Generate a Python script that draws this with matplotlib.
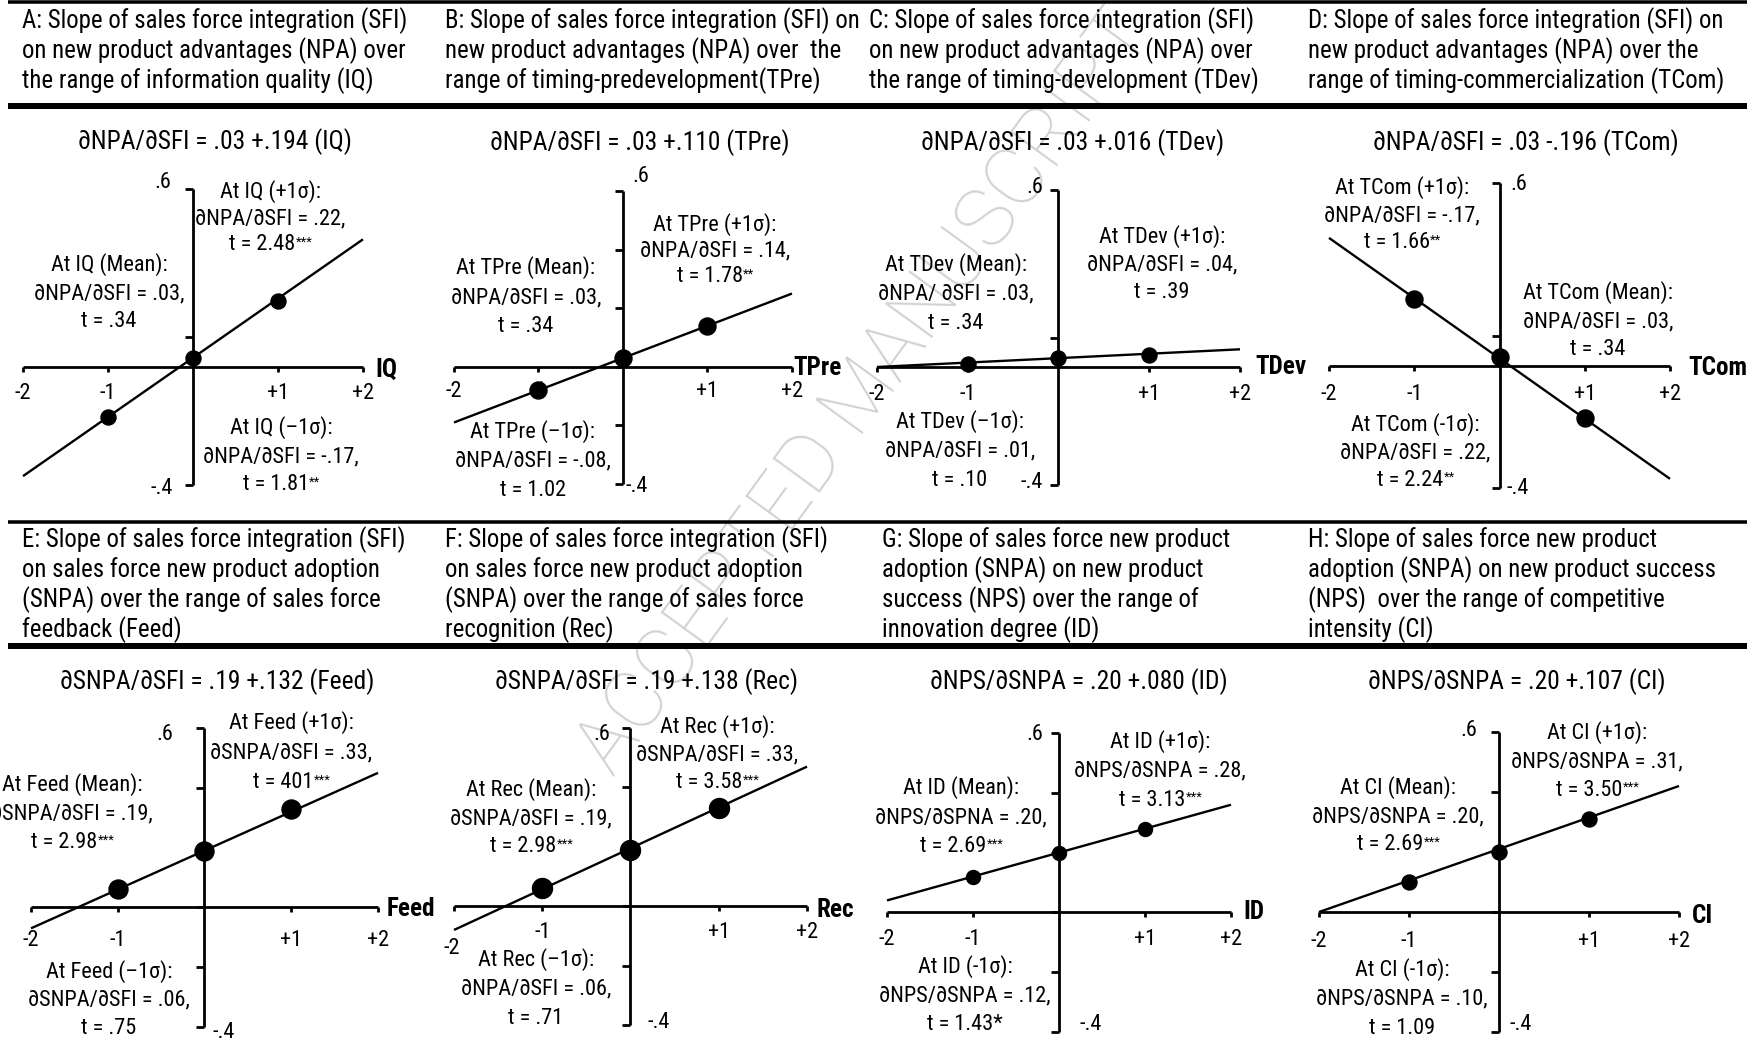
import matplotlib
matplotlib.use("Agg")
import matplotlib.pyplot as plt
from matplotlib import font_manager
from matplotlib.lines import Line2D
from matplotlib.text import Annotation
from matplotlib.transforms import ScaledTranslation

W, H, DPI = 1758, 1044, 100

# ---------------- data ----------------
panels = ["A", "B", "C", "D", "E", "F", "G", "H"]
moderators = ["IQ", "TPre", "TDev", "TCom", "Feed", "Rec", "ID", "CI"]
x_points = [-1, 0, 1]
x_line = [-2, 2]
x_ticks = [-2, -1, 1, 2]
x_tick_labels = ["-2", "-1", "+1", "+2"]
y_top_label = ".6"
y_bottom_label = "-.4"
yticks_sparse = [-0.4, 0.1, 0.6]
yticks_full = [-0.4, -0.2, 0.0, 0.2, 0.4, 0.6]

# conditional slope plotted at x = -1, 0, +1
value_at_x_minus1 = [-0.17, -0.08, 0.01, 0.22, 0.06, 0.06, 0.12, 0.10]
value_at_x_0 = [0.03, 0.03, 0.03, 0.03, 0.19, 0.19, 0.20, 0.20]
value_at_x_plus1 = [0.22, 0.14, 0.04, -0.17, 0.33, 0.33, 0.28, 0.31]
# regression line end values at x = -2 and x = +2
line_at_minus2 = [-0.37, -0.19, 0.00, 0.42, -0.07, -0.08, 0.04, 0.00]
line_at_plus2 = [0.43, 0.25, 0.06, -0.37, 0.45, 0.47, 0.36, 0.42]

titles = [
    ["A: Slope of sales force integration (SFI)", "on new product advantages (NPA) over",
     "the range of information quality (IQ)"],
    ["B: Slope of sales force integration (SFI) on", "new product advantages (NPA) over  the",
     "range of timing-predevelopment(TPre)"],
    ["C: Slope of sales force integration (SFI)", "on new product advantages (NPA) over",
     "the range of timing-development (TDev)"],
    ["D: Slope of sales force integration (SFI) on", "new product advantages (NPA) over the",
     "range of timing-commercialization (TCom)"],
    ["E: Slope of sales force integration (SFI)", "on sales force new product adoption",
     "(SNPA) over the range of sales force", "feedback (Feed)"],
    ["F: Slope of sales force integration (SFI)", "on sales force new product adoption",
     "(SNPA) over the range of sales force", "recognition (Rec)"],
    ["G: Slope of sales force new product", "adoption (SNPA) on new product",
     "success (NPS) over the range of", "innovation degree (ID)"],
    ["H: Slope of sales force new product", "adoption (SNPA) on new product success",
     "(NPS)  over the range of competitive", "intensity (CI)"],
]

equations = [
    "∂NPA/∂SFI = .03 +.194 (IQ)",
    "∂NPA/∂SFI = .03 +.110 (TPre)",
    "∂NPA/∂SFI = .03 +.016 (TDev)",
    "∂NPA/∂SFI = .03 -.196 (TCom)",
    "∂SNPA/∂SFI = .19 +.132 (Feed)",
    "∂SNPA/∂SFI = .19 +.138 (Rec)",
    "∂NPS/∂SNPA = .20 +.080 (ID)",
    "∂NPS/∂SNPA = .20 +.107 (CI)",
]

# annotation text: [line1, line2, line3, superscript stars]
notes_plus = [
    ["At IQ (+1σ):", "∂NPA/∂SFI = .22,", "t = 2.48", "***"],
    ["At TPre (+1σ):", "∂NPA/∂SFI = .14,", "t = 1.78", "**"],
    ["At TDev (+1σ):", "∂NPA/∂SFI = .04,", "t = .39", ""],
    ["At TCom (+1σ):", "∂NPA/∂SFI = -.17,", "t = 1.66", "**"],
    ["At Feed (+1σ):", "∂SNPA/∂SFI = .33,", "t = 401", "***"],
    ["At Rec (+1σ):", "∂SNPA/∂SFI = .33,", "t = 3.58", "***"],
    ["At ID (+1σ):", "∂NPS/∂SNPA = .28,", "t = 3.13", "***"],
    ["At CI (+1σ):", "∂NPS/∂SNPA = .31,", "t = 3.50", "***"],
]
notes_mean = [
    ["At IQ (Mean):", "∂NPA/∂SFI = .03,", "t = .34", ""],
    ["At TPre (Mean):", "∂NPA/∂SFI = .03,", "t = .34", ""],
    ["At TDev (Mean):", "∂NPA/ ∂SFI = .03,", "t = .34", ""],
    ["At TCom (Mean):", "∂NPA/∂SFI = .03,", "t = .34", ""],
    ["At Feed (Mean):", "∂SNPA/∂SFI = .19,", "t = 2.98", "***"],
    ["At Rec (Mean):", "∂SNPA/∂SFI = .19,", "t = 2.98", "***"],
    ["At ID (Mean):", "∂NPS/∂SPNA = .20,", "t = 2.69", "***"],
    ["At CI (Mean):", "∂NPS/∂SNPA = .20,", "t = 2.69", "***"],
]
notes_minus = [
    ["At IQ (–1σ):", "∂NPA/∂SFI = -.17,", "t = 1.81", "**"],
    ["At TPre (–1σ):", "∂NPA/∂SFI = -.08,", "t = 1.02", ""],
    ["At TDev (–1σ):", "∂NPA/∂SFI = .01,", "t = .10", ""],
    ["At TCom (-1σ):", "∂NPA/∂SFI = .22,", "t = 2.24", "**"],
    ["At Feed (–1σ):", "∂SNPA/∂SFI = .06,", "t = .75", ""],
    ["At Rec (–1σ):", "∂NPA/∂SFI = .06,", "t = .71", ""],
    ["At ID (-1σ):", "∂NPS/∂SNPA = .12,", "t = 1.43*", ""],
    ["At CI (-1σ):", "∂NPS/∂SNPA = .10,", "t = 1.09", ""],
]
watermark = "ACCEPTED MANUSCRIPT"

# ---------------- layout (pixels of the 1758x1044 canvas) ----------------
axes_px = [  # x(-2), x(+2), y(.6), y(-.4)
    (23, 363, 189, 485), (454, 792, 191, 484), (877, 1240, 190, 485), (1329, 1670, 183, 488),
    (31, 378, 728, 1027), (454, 807, 728, 1025), (887, 1231, 733, 1032), (1319, 1679, 732, 1032),
]
xtick_pad_pt = [8.3, 6.9, 8.3, 9.0, 12.6, 7.6, 8.3, 9.8]
dot_px = [15, 17, 15, 17, 19, 20, 14, 15]
sparse_ticks = [True, False, True, True, False, False, False, False]
top_lab_px = [(171, 183, "right"), (632, 177, "left"), (1043, 187, "right"), (1510, 185, "left"),
              (173, 735, "right"), (610, 735, "right"), (1043, 735, "right"), (1477, 730, "right")]
bot_lab_px = [(173, 488, "right"), (626, 487, "left"), (1043, 483, "right"), (1507, 488, "left"),
              (213, 1033, "left"), (648, 1022, "left"), (1080, 1025, "left"), (1510, 1025, "left")]
axname_px = [(375, 370), (793, 368), (1255, 367), (1688, 368),
             (387, 909), (817, 910), (1243, 912), (1692, 916)]
eq_px = [(215, 142), (640, 143), (1073, 143), (1526, 143),
         (217, 682), (647, 682), (1079, 682), (1517, 682)]
title_x = [22, 445, 869, 1308, 22, 445, 882, 1308]
title_base = [28, 28, 28, 28, 547, 547, 547, 547]
title_step = 30
plus_px = [(270, 192, 245), (715, 225, 277), (1162, 237, 293), (1402, 188, 243),
           (291, 723, 783), (717, 727, 783), (1160, 742, 800), (1597, 733, 790)]
mean_px = [(109, 265, 322), (526, 268, 327), (956, 265, 323), (1598, 293, 350),
           (72, 785, 843), (531, 790, 847), (961, 788, 847), (1398, 788, 845)]
minus_px = [(281, 428, 485), (533, 432, 490), (960, 422, 480), (1415, 425, 480),
            (109, 972, 1028), (536, 960, 1018), (965, 967, 1025), (1402, 970, 1028)]
rules = [(2, 3.5), (106, 6), (522, 3.5), (646, 6)]  # y, thickness px


def has_font(name):
    try:
        font_manager.findfont(font_manager.FontProperties(family=name), fallback_to_default=False)
        return True
    except Exception:
        return False


BASE = "Liberation Sans"
for cand in ["Liberation Sans Narrow", "Arial Narrow", "Roboto Condensed",
             "Noto Sans Condensed", "Open Sans Condensed"]:
    if has_font(cand):
        BASE = cand
        break
FAM = [BASE, "Liberation Sans", "DejaVu Sans"]
plt.rcParams["font.family"] = FAM

WM_FAM = [f for f in ["Roboto Light", "Lato Light", "Open Sans Light", "Roboto", "Liberation Sans"]
          if has_font(f)] + ["DejaVu Sans"]

PT = 72.0 / DPI
LW_AX = 2.0
LW_LINE = 1.7


def P(x, y):
    return x / W, 1 - y / H


fig = plt.figure(figsize=(W / DPI, H / DPI), dpi=DPI)
fig.patch.set_facecolor("white")
renderer = fig.canvas.get_renderer()


def text_width(s, size, **kw):
    t = fig.text(0, 0, s, fontsize=size, **kw)
    w = t.get_window_extent(renderer).width
    t.remove()
    return w


def fit_size(samples, **kw):
    ratios = [target / text_width(s, 20, **kw) for s, target in samples]
    return 20 * sum(ratios) / len(ratios)


FS_TITLE = fit_size([("A: Slope of sales force integration (SFI)", 390),
                     ("D: Slope of sales force integration (SFI) on", 412)])
FS_EQ = fit_size([("∂NPA/∂SFI = .03 +.194 (IQ)", 278), ("∂SNPA/∂SFI = .19 +.132 (Feed)", 311),
                  ("∂NPS/∂SNPA = .20 +.080 (ID)", 295)])
FS_NOTE = fit_size([("∂NPA/∂SFI = .22,", 147), ("∂NPS/∂SNPA = .28,", 178),
                    ("At TCom (Mean):", 150), ("At IQ (Mean):", 115)])
FS_AXNAME = fit_size([("TCom", 57), ("Feed", 48), ("TPre", 50)], fontweight="bold")
FS_WM = fit_size([(watermark, 920)], family=WM_FAM, fontweight="light")
FS_STAR = 13.0 * PT

# watermark
wx, wy = P(866, 392)
fig.text(wx, wy, watermark, rotation=54, fontsize=FS_WM, color="#d2d2d2", ha="center", va="center",
         rotation_mode="anchor", family=WM_FAM, fontweight="light", zorder=-10)

# horizontal rules
for y, th in rules:
    x0, yy = P(8, y)
    x1, _ = P(1747, y)
    fig.add_artist(Line2D([x0, x1], [yy, yy], color="black", lw=th * PT, solid_capstyle="butt"))


def block(lines, cx, y1, y3):
    step = (y3 - y1) / 2.0
    for k in range(2):
        fig.text(*P(cx, y1 + k * step), lines[k], fontsize=FS_NOTE, ha="center", va="center")
    stars = lines[3]
    shift = 2.6 * len(stars)
    t = fig.text(*P(cx - shift, y3), lines[2], fontsize=FS_NOTE, ha="center", va="center")
    if stars:
        ann = Annotation(stars, xy=(1, 1), xycoords=t, xytext=(0.3, -1.0), textcoords="offset points",
                         ha="left", va="top", fontsize=FS_STAR)
        fig.add_artist(ann)


for i, pid in enumerate(panels):
    xl, xr, yt, yb = axes_px[i]
    ax = fig.add_axes([xl / W, 1 - yb / H, (xr - xl) / W, (yb - yt) / H])
    ax.set_xlim(-2, 2)
    ax.set_ylim(-0.4, 0.6)
    ax.patch.set_visible(False)
    for s in ("top", "right"):
        ax.spines[s].set_visible(False)
    ax.spines["left"].set_position(("data", 0))
    ax.spines["bottom"].set_position(("data", 0))
    for s in ("left", "bottom"):
        ax.spines[s].set_linewidth(LW_AX)
        ax.spines[s].set_capstyle("butt")
    ax.set_yticks(yticks_sparse if sparse_ticks[i] else yticks_full)
    ax.set_yticklabels([])
    ax.tick_params(axis="y", direction="out", length=8 * PT, width=LW_AX)
    ax.set_xticks(x_ticks, x_tick_labels)
    ax.tick_params(axis="x", direction="out", length=5 * PT, width=LW_AX, pad=xtick_pad_pt[i],
                   labelsize=FS_NOTE)

    ax.plot(x_line, [line_at_minus2[i], line_at_plus2[i]], color="black", lw=LW_LINE,
            solid_capstyle="butt", clip_on=False, zorder=3)
    ax.plot(x_points, [value_at_x_minus1[i], value_at_x_0[i], value_at_x_plus1[i]], "o",
            color="black", ms=dot_px[i] * PT, clip_on=False, zorder=5)

    if pid == "F":
        lbl = ax.get_xticklabels()[0]
        lbl.set_transform(lbl.get_transform() + ScaledTranslation(-2 / DPI, -16 / DPI, fig.dpi_scale_trans))

    # y end labels
    x, y, ha = top_lab_px[i]
    fig.text(*P(x, y), y_top_label, fontsize=FS_NOTE, ha=ha, va="center")
    x, y, ha = bot_lab_px[i]
    fig.text(*P(x, y), y_bottom_label, fontsize=FS_NOTE, ha=ha, va="center")

    # moderator name
    x, y = axname_px[i]
    fig.text(*P(x, y), moderators[i], fontsize=FS_AXNAME, fontweight="bold", ha="left", va="center")

    # equation
    x, y = eq_px[i]
    fig.text(*P(x, y), equations[i], fontsize=FS_EQ, ha="center", va="center")

    # title
    for k, line in enumerate(titles[i]):
        fig.text(*P(title_x[i], title_base[i] + k * title_step), line, fontsize=FS_TITLE,
                 ha="left", va="baseline")

    block(notes_plus[i], *plus_px[i])
    block(notes_mean[i], *mean_px[i])
    block(notes_minus[i], *minus_px[i])

fig.savefig("out.png", dpi=DPI, facecolor="white")
